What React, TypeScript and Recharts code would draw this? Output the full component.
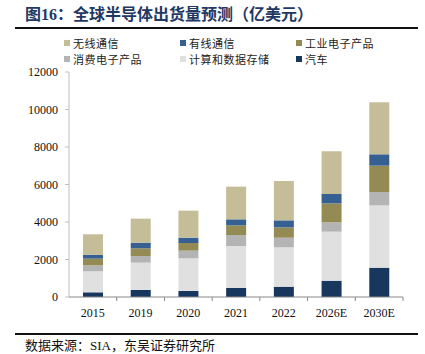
import React from "react"
import { BarChart, Bar, XAxis, YAxis } from "recharts"

const years = ["2015", "2019", "2020", "2021", "2022", "2026E", "2030E"]
const auto = [250, 373, 320, 480, 550, 870, 1564]
const computing = [1120, 1458, 1742, 2240, 2098, 2613, 3325]
const consumer = [320, 356, 409, 587, 515, 498, 711]
const industrial = [355, 409, 409, 515, 552, 1014, 1404]
const wired = [200, 302, 284, 320, 373, 497, 605]
const wireless = [1100, 1280, 1440, 1742, 2098, 2276, 2773]
const yTicks = [0, 2000, 4000, 6000, 8000, 10000, 12000]

const series = [
  { key: "auto", name: "汽车", color: "#17375e" },
  { key: "computing", name: "计算和数据存储", color: "#e0e0e0" },
  { key: "consumer", name: "消费电子产品", color: "#b4b4b4" },
  { key: "industrial", name: "工业电子产品", color: "#948a54" },
  { key: "wired", name: "有线通信", color: "#366092" },
  { key: "wireless", name: "无线通信", color: "#c4bd97" },
]

const legendOrder = ["wireless", "wired", "industrial", "consumer", "computing", "auto"]

const data = years.map((year, i) => ({
  year,
  auto: auto[i],
  computing: computing[i],
  consumer: consumer[i],
  industrial: industrial[i],
  wired: wired[i],
  wireless: wireless[i],
}))

const serif = "'Liberation Serif', 'Noto Sans CJK SC', serif"
const cjk = "'Noto Sans CJK SC', sans-serif"

const BAND = 334 / years.length

function XTick(props: any) {
  const { x, y, payload } = props
  return (
    <g>
      <line x1={x + BAND / 2} x2={x + BAND / 2} y1={y - 8} y2={y - 4} stroke="#888" />
      <text x={x} y={y + 12} textAnchor="middle" fontFamily={serif} fontSize={12} fill="#111">
        {payload.value}
      </text>
    </g>
  )
}

export default function App() {
  const legendCols = [64, 180, 296]
  return (
    <div style={{ position: "absolute", left: 0, top: 0, width: 425, height: 354, background: "#fff", overflow: "hidden" }}>
      <div style={{ position: "absolute", left: 25, top: 6, lineHeight: "18px", fontFamily: serif, fontWeight: 700, fontSize: 16, color: "#1f3864", whiteSpace: "nowrap" }}>
        图16：全球半导体出货量预测（亿美元）
      </div>
      <div style={{ position: "absolute", left: 15, top: 27, width: 403, height: 2, background: "#111" }} />
      {legendOrder.map((k, i) => {
        const s = series.find((d) => d.key === k)!
        const col = i % 3
        const row = Math.floor(i / 3)
        return (
          <div key={k} style={{ position: "absolute", left: legendCols[col], top: 35 + row * 16, height: 16, lineHeight: "16px", display: "flex", alignItems: "center", fontFamily: cjk, fontSize: 11, letterSpacing: 0.5, color: "#222", whiteSpace: "nowrap" }}>
            <span style={{ display: "inline-block", width: 6, height: 6, background: s.color, marginRight: 3 }} />
            {s.name}
          </div>
        )
      })}
      <div style={{ position: "absolute", left: 0, top: 0 }}>
        <BarChart width={425} height={354} data={data} margin={{ top: 72, right: 22, left: 0, bottom: 27 }} barSize={20}>
          <YAxis
            width={69}
            domain={[0, 12000]}
            ticks={yTicks}
            interval={0}
            tickSize={4}
            tickMargin={7}
            axisLine={{ stroke: "#bfbfbf" }}
            tickLine={{ stroke: "#bfbfbf" }}
            tick={{ fontFamily: serif, fontSize: 12, fill: "#111" }}
          />
          <XAxis
            dataKey="year"
            height={30}
            axisLine={{ stroke: "#888" }}
            tickLine={false}
            interval={0}
            tick={<XTick />}
          />
          {series.map((s) => (
            <Bar key={s.key} dataKey={s.key} name={s.name} stackId="a" fill={s.color} isAnimationActive={false} />
          ))}
        </BarChart>
      </div>
      <div style={{ position: "absolute", left: 15, top: 333, width: 403, height: 2, background: "#111" }} />
      <div style={{ position: "absolute", left: 25, top: 338, lineHeight: "15px", fontFamily: serif, fontSize: 13, color: "#111", whiteSpace: "nowrap" }}>
        数据来源：SIA，东吴证券研究所
      </div>
    </div>
  )
}
